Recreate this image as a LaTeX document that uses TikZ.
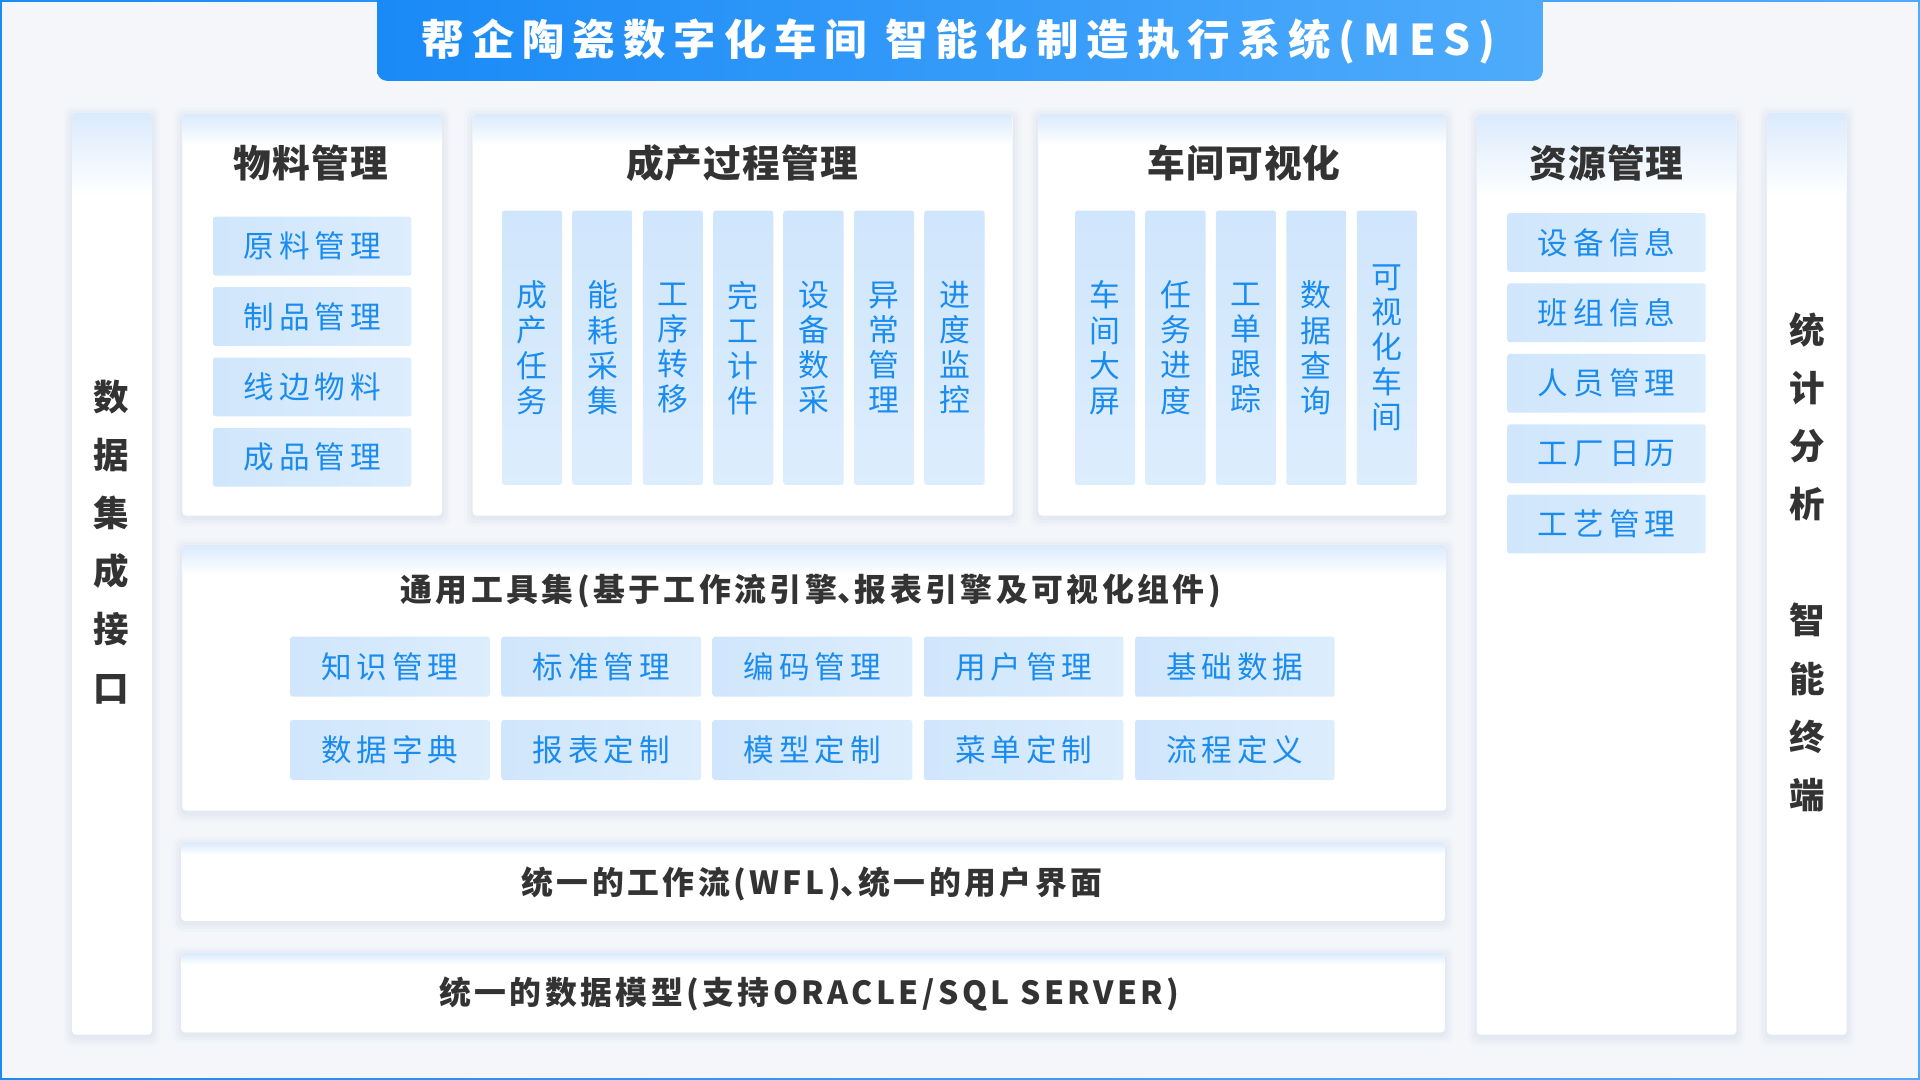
\documentclass[tikz,border=0pt]{standalone}
\usepackage{fontspec}
\newfontfamily\cjk{Noto Sans CJK SC}
\newfontfamily\titlefont[LetterSpace=19]{Noto Sans CJK SC}
\newfontfamily\headfont[LetterSpace=3]{Noto Sans CJK SC}
\newfontfamily\itemfont[LetterSpace=16]{Noto Sans CJK SC}
\newfontfamily\barfont[LetterSpace=11]{Noto Sans CJK SC}
\newcommand\narrowcomma{\makebox[0.55em][l]{、}}
\definecolor{bg}{HTML}{F4F6FA}
\definecolor{bordL}{HTML}{1C8BF6}
\definecolor{bordR}{HTML}{4FAAFA}
\definecolor{band}{HTML}{DAEAFC}
\definecolor{itemL}{HTML}{D0E6FC}
\definecolor{itemR}{HTML}{DCEDFD}
\definecolor{itemtxt}{HTML}{1A8CF0}
\definecolor{headtxt}{HTML}{333333}
\definecolor{shadowc}{HTML}{D8E0EC}
\definecolor{titleL}{HTML}{1A8AF7}
\definecolor{titleR}{HTML}{4EABFB}
\newcommand\mypanel[5]{%
  \foreach \s/\o in {7/0.12,4.5/0.2,2/0.3}{\fill[shadowc,opacity=\o,rounded corners=3pt] (#1-\s,#2-\s+2) rectangle (#3+\s,#4+\s+2);}
  \fill[white,rounded corners=1.5pt] (#1,#2) rectangle (#3,#4);
  \shade[top color=band,bottom color=white,rounded corners=1.5pt] (#1,#2+#5) -- (#1,#2) -- (#3,#2) -- (#3,#2+#5) -- cycle;
}
\tikzset{
  itembox/.style={rectangle, rounded corners=1pt, left color=itemL, right color=itemR, text=itemtxt, inner sep=0pt, minimum width=81pt, minimum height=24pt, font=\itemfont\fontsize{12.5}{14}\selectfont},
  colbox/.style={rectangle, rounded corners=1pt, top color=itemL, bottom color=itemR, text=itemtxt, inner sep=0pt, align=center, minimum width=24.5pt, minimum height=112pt, font=\cjk\fontsize{12.6}{14.3}\selectfont},
  head/.style={text=headtxt, inner sep=0pt, font=\headfont\bfseries\fontsize{15.4}{18}\selectfont},
  subhead/.style={text=headtxt, inner sep=0pt, font=\barfont\bfseries\fontsize{13}{16}\selectfont},
  sidetext/.style={text=headtxt, inner sep=0pt, align=center, font=\cjk\bfseries\fontsize{14.5}{23.75}\selectfont},
  titletext/.style={text=white, inner sep=0pt, font=\titlefont\bfseries\fontsize{17.3}{20}\selectfont}
}
\begin{document}
\begin{tikzpicture}[x=0.5pt,y=-0.5pt]
\useasboundingbox (0,0) rectangle (1568,882);
% frame and background
\shade[left color=bordL,right color=bordR] (0,0) rectangle (1568,882);
\fill[bg] (1.6,1.6) rectangle (1566.4,880.4);
% title bar
\shade[left color=titleL,right color=titleR,rounded corners=4pt] (308,-20) rectangle (1260,66);
\node[titletext] (title) at (783,33.5) {帮企陶瓷数字化车间 智能化制造执行系统(MES)};
% panels
\mypanel{59}{92}{124}{845}{68}
\mypanel{149}{93}{361}{421}{26}
\mypanel{386}{93}{827}{421}{26}
\mypanel{848}{93}{1181}{421}{26}
\mypanel{1206}{93}{1418}{845}{68}
\mypanel{1443}{92}{1508}{845}{68}
\mypanel{149}{445}{1181}{662}{24}
\mypanel{148}{688}{1180}{752}{10}
\mypanel{148}{778}{1180}{843}{10}
% side columns
\node[sidetext] (left) at (91,442.5) {数\\据\\集\\成\\接\\口};
\node[sidetext] (right) at (1476,459) {统\\计\\分\\析\\[23.75pt]智\\能\\终\\端};
% headers
\node[head] (hM) at (254,133) {物料管理};
\node[head] (hP) at (606,133) {成产过程管理};
\node[head] (hV) at (1016,133) {车间可视化};
\node[head] (hR) at (1312,133) {资源管理};
\node[subhead] (hT) at (662,483) {通用工具集(基于工作流引擎\narrowcomma 报表引擎及可视化组件)};
\node[subhead] (hW) at (663,722) {统一的工作流(WFL)\narrowcomma 统一的用户界面};
\node[subhead] (hD) at (661,812) {统一的数据模型(支持ORACLE/SQL SERVER)};
% material items
\node[itembox] (m1) at (255,201) {原料管理};
\node[itembox] (m2) at (255,258.5) {制品管理};
\node[itembox] (m3) at (255,316) {线边物料};
\node[itembox] (m4) at (255,373.5) {成品管理};
% production columns
\node[colbox] (p1) at (434.5,284) {成\\产\\任\\务};
\node[colbox] (p2) at (492,284) {能\\耗\\采\\集};
\node[colbox] (p3) at (549.5,284) {工\\序\\转\\移};
\node[colbox] (p4) at (607,284) {完\\工\\计\\件};
\node[colbox] (p5) at (664.5,284) {设\\备\\数\\采};
\node[colbox] (p6) at (722,284) {异\\常\\管\\理};
\node[colbox] (p7) at (779.5,284) {进\\度\\监\\控};
% visual columns
\node[colbox] (v1) at (902.5,284) {车\\间\\大\\屏};
\node[colbox] (v2) at (960,284) {任\\务\\进\\度};
\node[colbox] (v3) at (1017.5,284) {工\\单\\跟\\踪};
\node[colbox] (v4) at (1075,284) {数\\据\\查\\询};
\node[colbox] (v5) at (1132.5,284) {可\\视\\化\\车\\间};
% resource items
\node[itembox] (r1) at (1312,198) {设备信息};
\node[itembox] (r2) at (1312,255.5) {班组信息};
\node[itembox] (r3) at (1312,313) {人员管理};
\node[itembox] (r4) at (1312,370.5) {工厂日历};
\node[itembox] (r5) at (1312,428) {工艺管理};
% tool items
\node[itembox,minimum height=24.5pt,minimum width=81.5pt] (t1) at (318.5,544.5) {知识管理};
\node[itembox,minimum height=24.5pt,minimum width=81.5pt] (t2) at (491,544.5) {标准管理};
\node[itembox,minimum height=24.5pt,minimum width=81.5pt] (t3) at (663.5,544.5) {编码管理};
\node[itembox,minimum height=24.5pt,minimum width=81.5pt] (t4) at (836,544.5) {用户管理};
\node[itembox,minimum height=24.5pt,minimum width=81.5pt] (t5) at (1008.5,544.5) {基础数据};
\node[itembox,minimum height=24.5pt,minimum width=81.5pt] (t6) at (318.5,612.5) {数据字典};
\node[itembox,minimum height=24.5pt,minimum width=81.5pt] (t7) at (491,612.5) {报表定制};
\node[itembox,minimum height=24.5pt,minimum width=81.5pt] (t8) at (663.5,612.5) {模型定制};
\node[itembox,minimum height=24.5pt,minimum width=81.5pt] (t9) at (836,612.5) {菜单定制};
\node[itembox,minimum height=24.5pt,minimum width=81.5pt] (t10) at (1008.5,612.5) {流程定义};
\end{tikzpicture}
\end{document}
